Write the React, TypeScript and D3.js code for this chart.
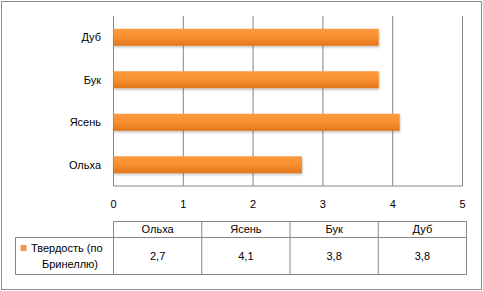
import * as d3 from 'd3'

const categories = ['Ольха', 'Ясень', 'Бук', 'Дуб']
const hardness = [2.7, 4.1, 3.8, 3.8]
const valueLabels = ['2,7', '4,1', '3,8', '3,8']
const xTicks = [0, 1, 2, 3, 4, 5]
const seriesName = ['Твердость (по', 'Бринеллю)']

const width = 483
const height = 291
const font = '"Liberation Sans", "DejaVu Sans", sans-serif'
const gridColor = '#868686'

export default function App() {
  const x = d3.scaleLinear([0, 5], [113.5, 462.5])
  const y = d3
    .scaleBand(categories.slice().reverse(), [16, 186])
    .paddingInner(0.6)
    .paddingOuter(0.3)
  const col = d3.scaleBand(categories, [113.5, 466.5])
  const rowTop = 221.5
  const rowMid = 237.5
  const rowBottom = 274.5
  const tableLeft = 15.5

  return (
    <svg
      width={width}
      height={height}
      style={{ position: 'absolute', left: 0, top: 0, fontFamily: font }}
    >
      <defs>
        <linearGradient id="bar" x1="0" y1="0" x2="0" y2="1">
          <stop offset="0" stopColor="#fb9a3e" />
          <stop offset="0.5" stopColor="#f7902f" />
          <stop offset="1" stopColor="#e2751c" />
        </linearGradient>
        <filter id="shadow" x="-5%" y="-30%" width="110%" height="180%">
          <feDropShadow dx="0.5" dy="1.5" stdDeviation="1" floodColor="#000" floodOpacity="0.25" />
        </filter>
      </defs>
      <rect x={1.5} y={1.5} width={width - 3} height={height - 3} fill="#fff" stroke="#8c8c8c" />

      {/* grid lines */}
      {xTicks.map(t => (
        <line key={t} x1={x(t)} x2={x(t)} y1={16} y2={186} stroke={gridColor} />
      ))}
      <line x1={x(0)} x2={x(5)} y1={186} y2={186} stroke={gridColor} />

      {/* bars */}
      {categories.map((c, i) => (
        <rect
          key={c}
          x={x(0)}
          y={y(c)}
          width={x(hardness[i]) - x(0)}
          height={y.bandwidth()}
          fill="url(#bar)"
          filter="url(#shadow)"
        />
      ))}

      {/* category labels */}
      {categories.map(c => (
        <text
          key={c}
          x={101}
          y={(y(c) ?? 0) + y.bandwidth() / 2}
          dy="0.35em"
          textAnchor="end"
          fontSize={11}
          fill="#000"
        >
          {c}
        </text>
      ))}

      {/* x tick labels */}
      {xTicks.map(t => (
        <text key={t} x={x(t)} y={208} textAnchor="middle" fontSize={11} fill="#000">
          {t}
        </text>
      ))}

      {/* data table */}
      <g stroke={gridColor} fill="none">
        <line x1={113.5} x2={466.5} y1={rowTop} y2={rowTop} />
        <line x1={tableLeft} x2={466.5} y1={rowMid} y2={rowMid} />
        <line x1={tableLeft} x2={466.5} y1={rowBottom} y2={rowBottom} />
        <line x1={tableLeft} x2={tableLeft} y1={rowMid} y2={rowBottom} />
        {categories.map(c => (
          <line key={c} x1={col(c)} x2={col(c)} y1={rowTop} y2={rowBottom} />
        ))}
        <line x1={466.5} x2={466.5} y1={rowTop} y2={rowBottom} />
      </g>
      {categories.map((c, i) => (
        <g key={c}>
          <text
            x={(col(c) ?? 0) + col.bandwidth() / 2}
            y={233}
            textAnchor="middle"
            fontSize={11}
          >
            {c}
          </text>
          <text
            x={(col(c) ?? 0) + col.bandwidth() / 2}
            y={260}
            textAnchor="middle"
            fontSize={11}
          >
            {valueLabels[i]}
          </text>
        </g>
      ))}
      <rect x={20.5} y={245} width={6} height={6} fill="#f79646" />
      <text x={31} y={252} fontSize={11}>
        {seriesName[0]}
      </text>
      <text x={70} y={268} fontSize={11} textAnchor="middle">
        {seriesName[1]}
      </text>
    </svg>
  )
}
